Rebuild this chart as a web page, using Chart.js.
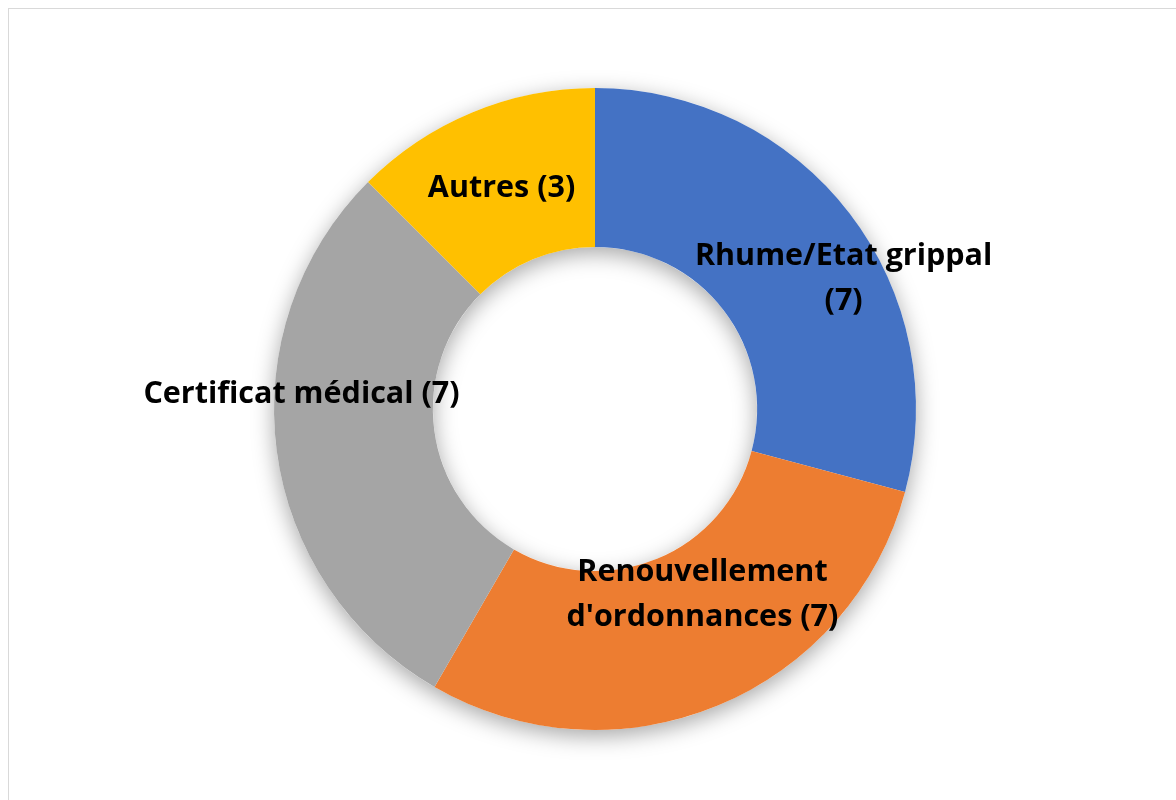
<!DOCTYPE html>
<html>
<head>
<meta charset="utf-8">
<script src="https://cdn.jsdelivr.net/npm/chart.js@4/dist/chart.umd.min.js"></script>
<style>
    html, body { margin: 0; padding: 0; background: #fff; }
    #wrap { position: relative; width: 1176px; height: 800px; overflow: hidden; }
    #frame { position: absolute; left: 8px; top: 8px; width: 1200px; height: 820px;
             border-left: 1px solid #d9d9d9; border-top: 1px solid #d9d9d9; }
    canvas { position: absolute; left: 0; top: 0; }
</style>
</head>
<body>
<div id="wrap">
    <div id="frame"></div>
    <canvas id="myChart" width="1176" height="800"></canvas>
</div>
<script>
const categories = ["Rhume/Etat grippal", "Renouvellement d'ordonnances", "Certificat médical", "Autres"];
const values = [7, 7, 7, 3];
// label lines as Excel wrapped them
const labelLines = [
    ["Rhume/Etat grippal", "(7)"],
    ["Renouvellement", "d'ordonnances (7)"],
    ["Certificat médical (7)"],
    ["Autres (3)"]
];
const colors = ["#4472C4", "#ED7D31", "#A5A5A5", "#FFC000"];

// nudges from the slice centre, in px (labels were moved by hand)
const labelShift = [[57, 17], [15, -37], [-54, -46], [-1, 2]];

const ringShadow = {
    id: "ringShadow",
    beforeDatasetsDraw(chart) {
        let arc = chart.getDatasetMeta(0).data[0];
        if (!arc) return;
        let c = chart.ctx;
        c.save();
        c.shadowColor = "rgba(0,0,0,0.35)";
        c.shadowBlur = 22;
        c.shadowOffsetY = 6;
        c.fillStyle = "#ffffff";
        c.beginPath();
        c.arc(arc.x, arc.y, arc.outerRadius, 0, Math.PI * 2);
        c.arc(arc.x, arc.y, arc.innerRadius, 0, Math.PI * 2, true);
        c.fill();
        c.restore();
    }
};

const sliceLabels = {
    id: "sliceLabels",
    afterDatasetsDraw(chart) {
        let c = chart.ctx;
        c.save();
        c.font = "bold 30.5px 'Open Sans', sans-serif";
        c.fillStyle = "#000";
        c.textAlign = "center";
        c.textBaseline = "middle";
        chart.getDatasetMeta(0).data.forEach((arc, i) => {
            let mid = (arc.startAngle + arc.endAngle) / 2;
            let r = (arc.innerRadius + arc.outerRadius) / 2;
            let x = arc.x + Math.cos(mid) * r + labelShift[i][0];
            let y = arc.y + Math.sin(mid) * r + labelShift[i][1];
            let lines = labelLines[i];
            let lh = 45;
            lines.forEach((t, k) => {
                c.fillText(t, x, y + (k - (lines.length - 1) / 2) * lh);
            });
        });
        c.restore();
    }
};

let ctx = document.getElementById("myChart");
let myDoughnutChart = new Chart(ctx.getContext("2d"), {
    type: "doughnut",
    data: {
        labels: categories,
        datasets: [{
            data: values,
            backgroundColor: colors,
            hoverBackgroundColor: colors,
            borderWidth: 0
        }]
    },
    options: {
        responsive: false,
        animation: false,
        cutout: "50.5%",
        layout: { padding: { left: 274, right: 260, top: 88, bottom: 70 } },
        plugins: {
            legend: { display: false },
            tooltip: { enabled: false }
        }
    },
    plugins: [ringShadow, sliceLabels]
});
</script>
</body>
</html>
